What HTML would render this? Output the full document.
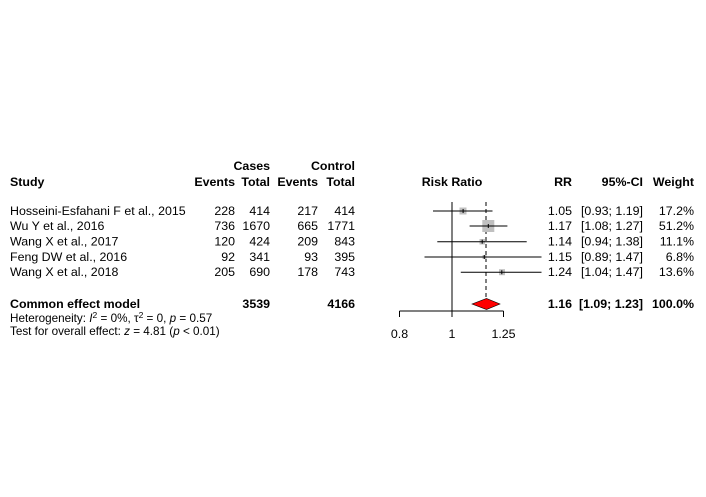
<!DOCTYPE html>
<html><head><style>
body{margin:0;background:#fff;}
svg{display:block;font-family:"Liberation Sans",Arial,sans-serif;font-size:12.4px;}
.b{font-weight:bold;}
</style></head><body>
<svg width="706" height="497" viewBox="0 0 706 497" xmlns="http://www.w3.org/2000/svg">
<g fill="#000">
<text x="270" y="170" class="b" text-anchor="end">Cases</text>
<text x="355" y="170" class="b" text-anchor="end">Control</text>
<text x="10" y="186" class="b">Study</text>
<text x="235" y="186" class="b" text-anchor="end">Events</text>
<text x="270" y="186" class="b" text-anchor="end">Total</text>
<text x="318" y="186" class="b" text-anchor="end">Events</text>
<text x="355" y="186" class="b" text-anchor="end">Total</text>
<text x="452" y="186" class="b" text-anchor="middle">Risk Ratio</text>
<text x="572" y="186" class="b" text-anchor="end">RR</text>
<text x="643" y="186" class="b" text-anchor="end">95%-CI</text>
<text x="694" y="186" class="b" text-anchor="end">Weight</text>

<g>
<text x="10" y="215">Hosseini-Esfahani F et al., 2015</text>
<text x="10" y="230">Wu Y et al., 2016</text>
<text x="10" y="245.5">Wang X et al., 2017</text>
<text x="10" y="261">Feng DW et al., 2016</text>
<text x="10" y="276">Wang X et al., 2018</text>
</g>
<g text-anchor="end">
<text x="235" y="215">228</text><text x="270" y="215">414</text><text x="318" y="215">217</text><text x="355" y="215">414</text>
<text x="235" y="230">736</text><text x="270" y="230">1670</text><text x="318" y="230">665</text><text x="355" y="230">1771</text>
<text x="235" y="245.5">120</text><text x="270" y="245.5">424</text><text x="318" y="245.5">209</text><text x="355" y="245.5">843</text>
<text x="235" y="261">92</text><text x="270" y="261">341</text><text x="318" y="261">93</text><text x="355" y="261">395</text>
<text x="235" y="276">205</text><text x="270" y="276">690</text><text x="318" y="276">178</text><text x="355" y="276">743</text>

<text x="572" y="215">1.05</text><text x="643" y="215">[0.93; 1.19]</text><text x="694" y="215">17.2%</text>
<text x="572" y="230">1.17</text><text x="643" y="230">[1.08; 1.27]</text><text x="694" y="230">51.2%</text>
<text x="572" y="245.5">1.14</text><text x="643" y="245.5">[0.94; 1.38]</text><text x="694" y="245.5">11.1%</text>
<text x="572" y="261">1.15</text><text x="643" y="261">[0.89; 1.47]</text><text x="694" y="261">6.8%</text>
<text x="572" y="276">1.24</text><text x="643" y="276">[1.04; 1.47]</text><text x="694" y="276">13.6%</text>

<text x="270" y="308" class="b">3539</text><text x="355" y="308" class="b">4166</text>
<text x="572" y="308" class="b">1.16</text><text x="643" y="308" class="b">[1.09; 1.23]</text><text x="694" y="308" class="b">100.0%</text>
</g>
<text x="10" y="308" class="b">Common effect model</text>
<text x="10" y="322" font-size="11.7">Heterogeneity: <tspan font-style="italic">I</tspan><tspan dy="-4" font-size="8.5">2</tspan><tspan dy="4"> = 0%, τ</tspan><tspan dy="-4" font-size="8.5">2</tspan><tspan dy="4"> = 0, </tspan><tspan font-style="italic">p</tspan> = 0.57</text>
<text x="10" y="335" font-size="11.7">Test for overall effect: <tspan font-style="italic">z</tspan> = 4.81 (<tspan font-style="italic">p</tspan> &lt; 0.01)</text>

<text x="399.5" y="338" text-anchor="middle">0.8</text>
<text x="452" y="338" text-anchor="middle">1</text>
<text x="503.5" y="338" text-anchor="middle">1.25</text>
</g>

<g stroke="#000" stroke-width="1" fill="none">
<line x1="452" y1="202" x2="452" y2="311"/>
<line x1="486" y1="202" x2="486" y2="300" stroke-dasharray="4,3"/>
<line x1="399.5" y1="311" x2="503.5" y2="311"/>
<line x1="399.5" y1="311" x2="399.5" y2="317"/>
<line x1="452" y1="311" x2="452" y2="317"/>
<line x1="503.5" y1="311" x2="503.5" y2="317"/>
</g>
<g fill="#c0c0c0">
<rect x="459.5" y="207.5" width="7" height="7"/>
<rect x="482.3" y="220" width="12" height="12"/>
<rect x="479.5" y="239" width="5.5" height="5.5"/>
<rect x="482.5" y="255" width="4" height="4"/>
<rect x="499" y="269.2" width="6" height="6"/>
</g>
<g stroke="#000" stroke-width="1">
<line x1="433" y1="211" x2="492.5" y2="211"/>
<line x1="469.6" y1="226" x2="507.4" y2="226"/>
<line x1="437.3" y1="241.7" x2="526.7" y2="241.7"/>
<line x1="424.5" y1="257" x2="541.5" y2="257"/>
<line x1="460.8" y1="272.2" x2="541.5" y2="272.2"/>
<line x1="463.1" y1="209" x2="463.1" y2="213"/>
<line x1="488.3" y1="224" x2="488.3" y2="228"/>
<line x1="482.2" y1="239.7" x2="482.2" y2="243.7"/>
<line x1="484.3" y1="255" x2="484.3" y2="259"/>
<line x1="501.8" y1="270.2" x2="501.8" y2="274.2"/>
</g>
<polygon points="472,304 486.5,298.5 500,304 486.5,309.5" fill="#ff0000" stroke="#000" stroke-width="0.6"/>
</svg>
</body></html>
